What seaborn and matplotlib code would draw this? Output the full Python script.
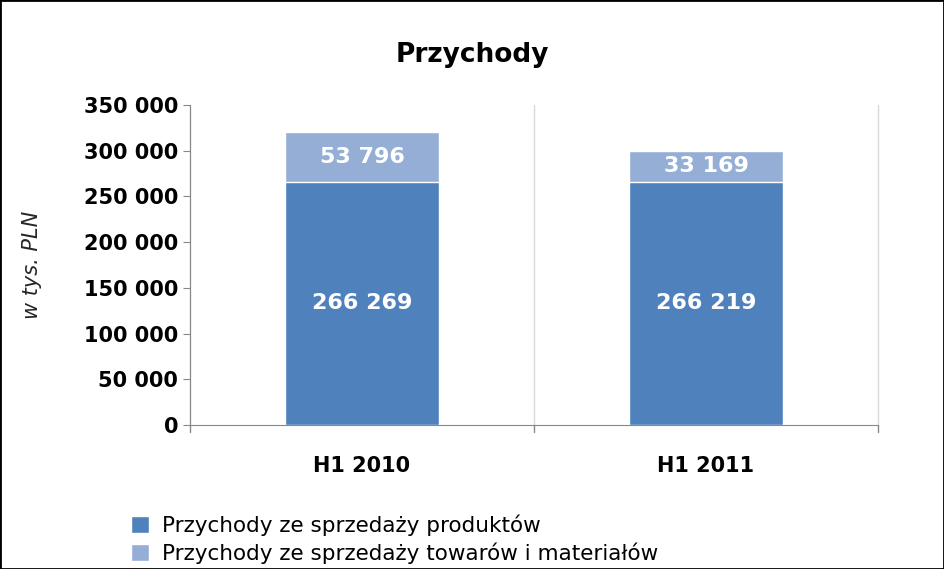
import matplotlib.pyplot as plt
import seaborn as sns
import pandas as pd

categories = ['H1 2010', 'H1 2011']
products = [266269, 266219]
goods = [53796, 33169]
series_names = ['Przychody ze sprzedaży produktów', 'Przychody ze sprzedaży towarów i materiałów']

def fmt(v):
    return f'{v:,}'.replace(',', ' ')

sns.set_style('white')
plt.rcParams['font.family'] = 'DejaVu Sans'
plt.rcParams['text.color'] = 'black'
plt.rcParams['xtick.color'] = 'black'
plt.rcParams['ytick.color'] = 'black'

fig = plt.figure(figsize=(9.44, 5.69), dpi=100)
ax = fig.add_axes([190 / 944, 1 - 425 / 569, 688 / 944, 320 / 569])

df = pd.DataFrame({'cat': categories, 'prod': products, 'goods': goods})
df['total'] = df['prod'] + df['goods']

sns.barplot(data=df, x='cat', y='total', color='#95aed6', width=0.45, saturation=1,
            ax=ax, label=series_names[1])
sns.barplot(data=df, x='cat', y='prod', color='#4f81bd', width=0.45, saturation=1,
            ax=ax, label=series_names[0])

for i in range(len(categories)):
    ax.text(i, products[i] / 2, fmt(products[i]), ha='center', va='center',
            color='white', fontsize=16, fontweight='bold')
    ax.text(i, products[i] + goods[i] / 2, fmt(goods[i]), ha='center', va='center',
            color='white', fontsize=16, fontweight='bold')

ax.set_xlim(-0.5, 1.5)
ax.set_ylim(0, 350000)
ax.set_yticks(range(0, 350001, 50000))
ax.set_yticklabels([fmt(v) for v in range(0, 350001, 50000)], fontsize=15, fontweight='bold')
ax.set_xticks([0, 1])
ax.set_xticklabels(categories, fontsize=15, fontweight='bold')
ax.tick_params(axis='x', length=0, pad=22)
ax.tick_params(axis='y', length=5, left=True, color='#888888')
for xb in [-0.5, 0.5, 1.5]:
    ax.plot([xb, xb], [0, 350000], color='#d9d9d9', lw=1, clip_on=False, zorder=0)
    ax.plot([xb, xb], [0, -8000], color='#888888', lw=1, clip_on=False)
for s in ['top', 'right']:
    ax.spines[s].set_visible(False)
ax.spines['left'].set_color('#888888')
ax.spines['bottom'].set_color('#888888')
ax.set_xlabel('')
ax.set_ylabel('w tys. PLN', fontsize=15, fontstyle='italic')
ax.yaxis.set_label_coords(-0.215, 0.5)

fig.text(0.5, 1 - 55 / 569, 'Przychody', ha='center', va='center', fontsize=19, fontweight='bold')

handles, labels = ax.get_legend_handles_labels()
order = [labels.index(n) for n in series_names]
ax.legend([handles[k] for k in order], series_names, loc='upper left',
          bbox_to_anchor=(112 / 944, 1 - 495 / 569), bbox_transform=fig.transFigure,
          frameon=False, fontsize=15.5, handlelength=0.8, handleheight=0.8,
          labelspacing=0.3, handletextpad=0.6)

fig.patches.append(plt.Rectangle((0, 0), 1, 1, transform=fig.transFigure,
                                 fill=False, edgecolor='black', lw=2))
fig.savefig('out.png', dpi=100)
